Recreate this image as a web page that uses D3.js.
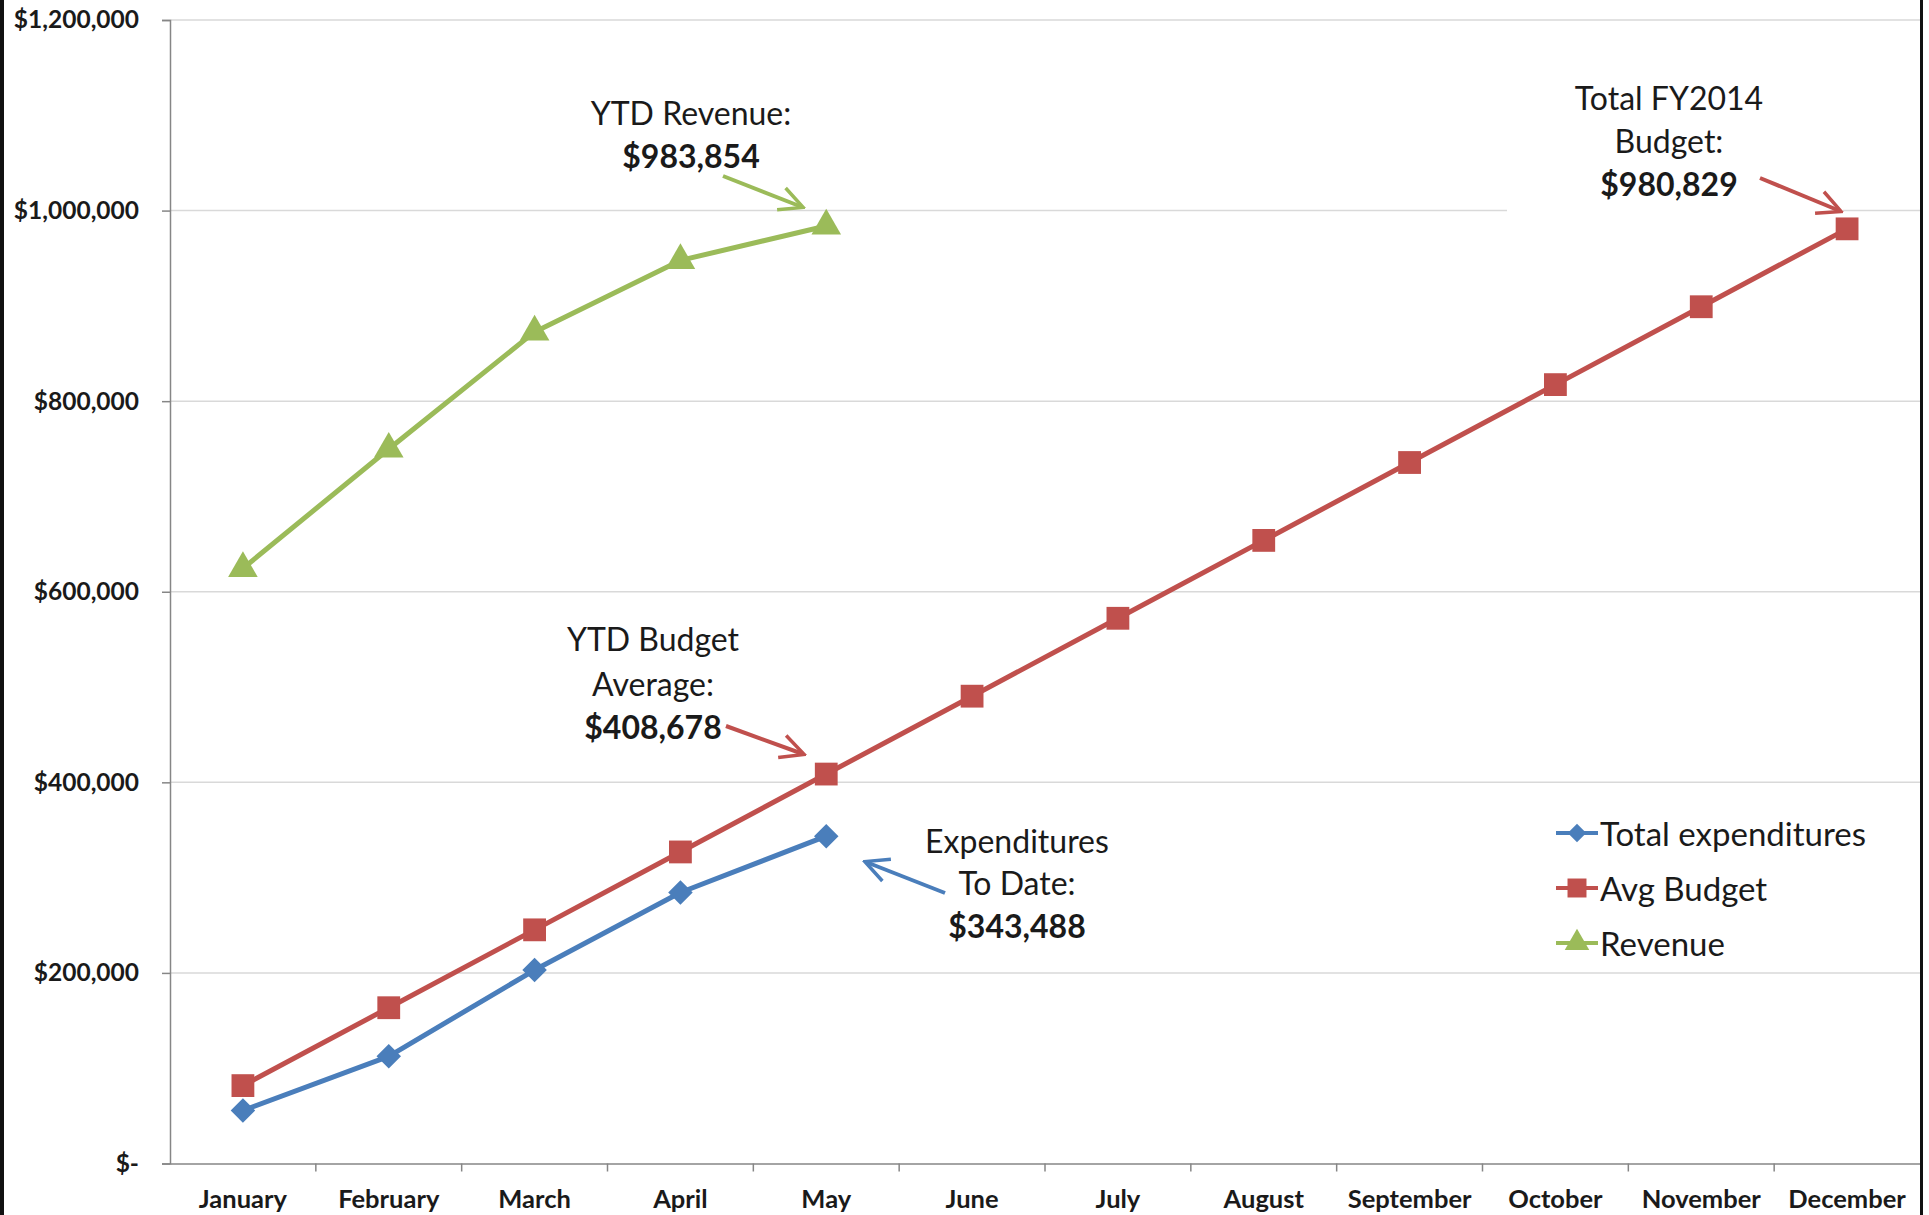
<!DOCTYPE html>
<html>
<head>
<meta charset="utf-8">
<script src="https://cdn.jsdelivr.net/npm/d3@7"></script>
<style>
html,body{margin:0;padding:0;background:#fff;}
svg{display:block;}
</style>
</head>
<body>
<svg id="chart" width="1929" height="1215"></svg>
<script>
// ---- data ----
const months = ["January","February","March","April","May","June","July","August","September","October","November","December"];
const expenditures = [55600, 112500, 203000, 284400, 343488];
const avgBudget = [81736, 163472, 245207, 326943, 408678, 490415, 572150, 653886, 735622, 817358, 899093, 980829];
const revenue = [624500, 749800, 872700, 947700, 983854];
const yTicks = [0, 200000, 400000, 600000, 800000, 1000000, 1200000];
const seriesNames = ["Total expenditures", "Avg Budget", "Revenue"];

// ---- styling ----
const colors = {exp: "#4a7ebb", bud: "#c0504d", rev: "#9bbb59"};
const font = "Lato, 'Open Sans', sans-serif";

const svg = d3.select("#chart");
const W = 1929, H = 1215;
const L = 170, R = 1920, T = 20, B = 1163.5;

const x = d3.scaleBand().domain(months).range([L, R]).padding(0);
const cx = m => x(m) + x.bandwidth() / 2;
const y = d3.scaleLinear().domain([0, 1200000]).range([B, T]);

// gridlines
svg.append("g").selectAll("line").data(yTicks.filter(d => d > 0)).join("line")
  .attr("x1", L).attr("x2", R)
  .attr("y1", d => y(d)).attr("y2", d => y(d))
  .attr("stroke", "#d9d9d9").attr("stroke-width", 1.5);

// white box behind FY2014 annotation (covers gridline)
svg.append("rect").attr("x", 1507).attr("y", 60).attr("width", 336).attr("height", 170).attr("fill", "#fff");

// y axis
const yAxis = d3.axisLeft(y).tickValues(yTicks).tickSize(8)
  .tickFormat(d => d === 0 ? "$-" : "$" + d3.format(",")(d));
const gy = svg.append("g").attr("transform", `translate(${L},0)`).call(yAxis);
gy.select(".domain").attr("stroke", "#868686").attr("stroke-width", 1.5);
gy.selectAll(".tick line").attr("stroke", "#868686").attr("stroke-width", 1.5);
gy.selectAll(".tick text").attr("x", -31).attr("font-family", font).attr("font-weight", "bold")
  .attr("font-size", 24.5).attr("fill", "#1a1a1a");

// x axis
const xAxis = d3.axisBottom(x).tickSize(0).tickPadding(26);
const gx = svg.append("g").attr("transform", `translate(0,${B})`).call(xAxis);
gx.select(".domain").attr("stroke", "#868686").attr("stroke-width", 1.5);
gx.selectAll(".tick text").attr("font-family", font).attr("font-weight", "bold")
  .attr("font-size", 25.5).attr("fill", "#1a1a1a");
// boundary ticks
svg.append("g").selectAll("line").data(months.slice(1)).join("line")
  .attr("x1", d => x(d)).attr("x2", d => x(d))
  .attr("y1", B).attr("y2", B + 8)
  .attr("stroke", "#868686").attr("stroke-width", 1.5);

// lines
const line = d3.line().x((d, i) => cx(months[i])).y(d => y(d));
function drawSeries(vals, color, shape) {
  svg.append("path").datum(vals).attr("d", line)
    .attr("fill", "none").attr("stroke", color).attr("stroke-width", 5).attr("stroke-linejoin", "round");
  svg.append("g").selectAll("path").data(vals).join("path")
    .attr("d", d3.symbol().type(shape.type).size(shape.size))
    .attr("transform", (d, i) => `translate(${cx(months[i])},${y(d)})${shape.rot || ""}`)
    .attr("fill", color);
}
drawSeries(revenue, colors.rev, {type: d3.symbolTriangle, size: 380});
drawSeries(avgBudget, colors.bud, {type: d3.symbolSquare, size: 520});
drawSeries(expenditures, colors.exp, {type: d3.symbolSquare, size: 300, rot: " rotate(45)"});

// annotations
const defs = svg.append("defs");
function marker(id, color) {
  defs.append("marker").attr("id", id).attr("viewBox", "0 0 12 12")
    .attr("refX", 10.5).attr("refY", 6).attr("markerWidth", 7).attr("markerHeight", 7)
    .attr("markerUnits", "strokeWidth").attr("orient", "auto")
    .append("path").attr("d", "M1,1 L11,6 L1,11").attr("fill", "none")
    .attr("stroke", color).attr("stroke-width", 1.5);
}
marker("aRev", colors.rev); marker("aBud", colors.bud); marker("aExp", colors.exp);

function arrow(x1, y1, x2, y2, color, id) {
  svg.append("line").attr("x1", x1).attr("y1", y1).attr("x2", x2).attr("y2", y2)
    .attr("stroke", color).attr("stroke-width", 4).attr("marker-end", `url(#${id})`);
}
function label(lines, xc, ys) {
  lines.forEach((t, i) => {
    svg.append("text").attr("x", xc).attr("y", ys[i]).attr("text-anchor", "middle")
      .attr("dominant-baseline", "central").attr("font-family", font)
      .attr("font-size", 32).attr("font-weight", t.bold ? "bold" : "normal")
      .attr("fill", "#1a1a1a").text(t.s);
  });
}
label([{s: "YTD Revenue:"}, {s: "$983,854", bold: true}], 691, [112, 155]);
arrow(723, 176, 802, 207, colors.rev, "aRev");

label([{s: "Total FY2014"}, {s: "Budget:"}, {s: "$980,829", bold: true}], 1669, [97, 140, 183]);
arrow(1760, 178, 1840, 211, colors.bud, "aBud");

label([{s: "YTD Budget"}, {s: "Average:"}, {s: "$408,678", bold: true}], 653, [638, 683, 726]);
arrow(726, 726, 803, 754, colors.bud, "aBud");

label([{s: "Expenditures"}, {s: "To Date:"}, {s: "$343,488", bold: true}], 1017, [840, 882, 925]);
arrow(945, 893, 866, 862, colors.exp, "aExp");

// legend
const legY = [833, 888, 943];
const legColors = [colors.exp, colors.bud, colors.rev];
const legShapes = [
  {type: d3.symbolSquare, size: 170, rot: " rotate(45)"},
  {type: d3.symbolSquare, size: 360},
  {type: d3.symbolTriangle, size: 260}
];
const leg = svg.append("g");
seriesNames.forEach((n, i) => {
  leg.append("line").attr("x1", 1556).attr("x2", 1598).attr("y1", legY[i]).attr("y2", legY[i])
    .attr("stroke", legColors[i]).attr("stroke-width", 4);
  leg.append("path").attr("d", d3.symbol().type(legShapes[i].type).size(legShapes[i].size))
    .attr("transform", `translate(1577,${legY[i]})${legShapes[i].rot || ""}`).attr("fill", legColors[i]);
  leg.append("text").attr("x", 1600).attr("y", legY[i]).attr("dominant-baseline", "central")
    .attr("font-family", font).attr("font-size", 33).attr("fill", "#1a1a1a").text(n);
});

// frame borders
svg.append("rect").attr("x", 0).attr("y", 0).attr("width", 4).attr("height", H).attr("fill", "#111");
svg.append("rect").attr("x", 1920).attr("y", 0).attr("width", 3).attr("height", H).attr("fill", "#111");
</script>
</body>
</html>
